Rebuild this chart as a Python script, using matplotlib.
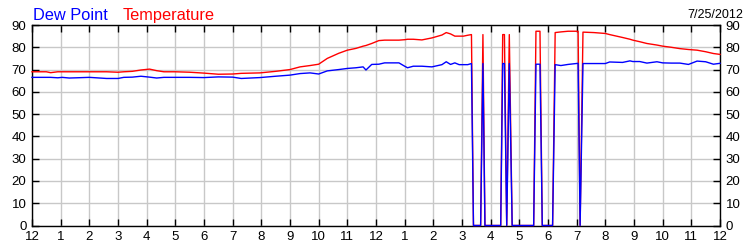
import matplotlib.pyplot as plt

plt.rcParams['font.family'] = ['Liberation Sans', 'DejaVu Sans']

# hours after midnight, 7/25/2012
hours = [0.0, 0.5, 0.65, 0.9, 1.05, 1.3, 1.55, 2.0, 2.6, 3.0, 3.2, 3.5, 3.8, 4.1,
         4.35, 4.6, 5.0, 5.5, 6.0, 6.5, 7.0, 7.3, 7.95, 8.5, 9.0, 9.35, 9.7, 10.0,
         10.3, 10.7, 11.0, 11.3, 11.55, 11.65, 11.85, 12.1, 12.3, 12.8, 13.0, 13.1,
         13.3, 13.6, 13.95, 14.3, 14.45, 14.6, 14.75, 14.9, 15.05, 15.2, 15.33,
         15.4, 15.65, 15.73, 15.8, 16.35, 16.42, 16.48, 16.56, 16.65, 16.75,
         17.5, 17.58, 17.72, 17.8, 18.16, 18.25, 18.45, 18.7, 19.05, 19.12,
         19.22, 19.6, 20.0, 20.15, 20.6, 20.86, 20.96, 21.2, 21.45, 21.8, 22.0,
         22.3, 22.6, 22.9, 23.2, 23.5, 23.77, 24.0]

temperature = [69.0, 69.0, 68.6, 69.0, 69.0, 69.0, 69.0, 69.0, 69.0, 68.8, 69.0, 69.2, 69.8, 70.2,
               69.5, 69.0, 69.0, 68.8, 68.4, 67.9, 68.0, 68.3, 68.5, 69.2, 70.0, 71.2, 71.8, 72.4,
               75.0, 77.3, 78.7, 79.5, 80.5, 80.8, 81.7, 83.0, 83.2, 83.2, 83.4, 83.6,
               83.6, 83.3, 84.2, 85.5, 86.6, 86.0, 85.0, 85.0, 85.0, 85.4, 85.7,
               0, 0, 85.7, 0, 0, 85.7, 85.7, 0, 85.7, 0,
               0, 87.2, 87.2, 0, 0, 86.6, 86.9, 87.2, 87.2, 0,
               86.8, 86.6, 86.2, 85.7, 84.4, 83.6, 83.2, 82.5, 81.7, 81.0, 80.5,
               80.0, 79.4, 79.0, 78.7, 78.0, 77.2, 76.8]

dew_point = [66.5, 66.5, 66.5, 66.3, 66.5, 66.2, 66.3, 66.5, 66.0, 66.0, 66.5, 66.6, 67.0, 66.6,
             66.2, 66.5, 66.5, 66.5, 66.4, 66.7, 66.6, 66.0, 66.4, 67.0, 67.5, 68.2, 68.5, 68.0,
             69.4, 70.0, 70.5, 70.8, 71.2, 69.8, 72.3, 72.4, 73.0, 73.0, 71.5, 70.8,
             71.5, 71.5, 71.2, 72.2, 73.5, 72.3, 73.0, 72.2, 72.2, 72.2, 72.7,
             0, 0, 72.7, 0, 0, 72.7, 72.7, 0, 72.7, 0,
             0, 72.4, 72.4, 0, 0, 72.2, 71.8, 72.3, 72.8, 0,
             72.7, 72.7, 72.7, 73.4, 73.2, 73.9, 73.6, 73.6, 72.9, 73.5, 73.0,
             72.9, 72.9, 72.3, 73.8, 73.5, 72.4, 72.8]

tick_labels = ['12', '1', '2', '3', '4', '5', '6', '7', '8', '9', '10', '11',
               '12', '1', '2', '3', '4', '5', '6', '7', '8', '9', '10', '11', '12']

fig = plt.figure(figsize=(7.5, 2.5), dpi=100)
ax = fig.add_axes([32 / 750, 1 - 225.5 / 250, 688 / 750, 200.5 / 250])

ax.plot(hours, temperature, color='#ff0000', lw=1.0, zorder=3, clip_on=False)
ax.plot(hours, dew_point, color='#0000ff', lw=1.0, zorder=4, clip_on=False)

ax.set_xlim(0, 24)
ax.set_ylim(0, 90)
ax.set_xticks(range(25))
ax.set_xticklabels(tick_labels)
ax.set_yticks(range(0, 91, 10))
ax.grid(True, color='#c8c8c8', lw=1.0)
ax.set_axisbelow(True)
ax.tick_params(direction='in', length=5, width=1, color='black',
               top=True, right=True, labelright=True, labelsize=9.5, pad=4)
for s in ax.spines.values():
    s.set_color('black')
    s.set_linewidth(1.0)

fig.text(33 / 750, 1 - 20 / 250, 'Dew Point', color='#0000ff', fontsize=11.8)
fig.text(123 / 750, 1 - 20 / 250, 'Temperature', color='#ff0000', fontsize=11.8)
fig.text(743 / 750, 1 - 18 / 250, '7/25/2012', color='black', fontsize=9, ha='right')

fig.savefig('out.png', dpi=100)
